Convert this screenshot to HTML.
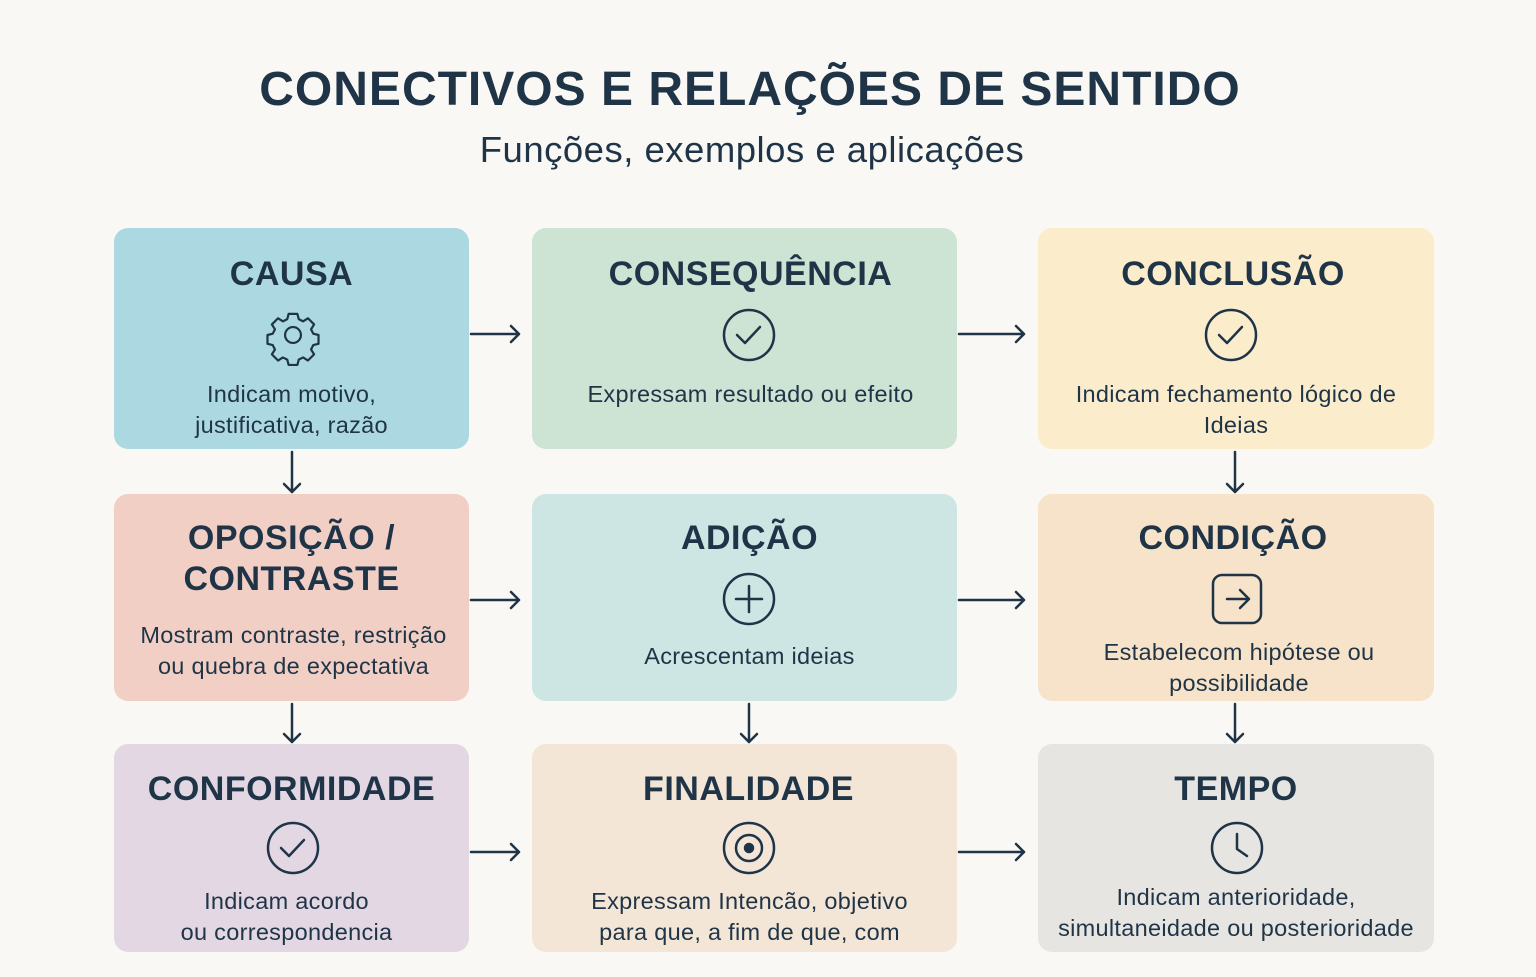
<!DOCTYPE html>
<html><head><meta charset="utf-8"><style>
*{margin:0;padding:0;box-sizing:border-box}
body{width:1536px;height:977px;background:#faf8f4;font-family:"Liberation Sans","DejaVu Sans",sans-serif;color:#1f3447;position:relative;overflow:hidden}
.t{position:absolute;left:0;width:1536px;text-align:center}
.b{position:absolute;border-radius:14px}
.h{position:absolute;left:0;right:0;text-align:center;font-weight:bold;font-size:34px;line-height:41px;letter-spacing:0.5px}
.d{position:absolute;left:-20px;right:-20px;text-align:center;font-size:23.5px;line-height:31px;letter-spacing:0.3px}
svg{position:absolute;left:0;top:0}
</style></head><body>
<div class="t" style="top:62px;font-size:48px;font-weight:bold;letter-spacing:1px;left:-18px">CONECTIVOS E RELAÇÕES DE SENTIDO</div>
<div class="t" style="top:129px;font-size:36.5px;left:-16px;letter-spacing:0.5px">Funções, exemplos e aplicações</div>

<div class="b" style="left:114px;top:228px;width:355px;height:221px;background:#acd8e2">
 <div class="h" style="top:26px">CAUSA</div>
 <div class="d" style="top:151px">Indicam motivo,<br>justificativa, razão</div></div>
<div class="b" style="left:532px;top:228px;width:425px;height:221px;background:#cde3d3">
 <div class="h" style="top:26px;left:12px">CONSEQUÊNCIA</div>
 <div class="d" style="top:151px;left:-8px">Expressam resultado ou efeito</div></div>
<div class="b" style="left:1038px;top:228px;width:396px;height:221px;background:#fbedcc">
 <div class="h" style="top:26px;right:6px">CONCLUSÃO</div>
 <div class="d" style="top:151px">Indicam fechamento lógico de<br>Ideias</div></div>

<div class="b" style="left:114px;top:494px;width:355px;height:207px;background:#f2cfc5">
 <div class="h" style="top:24px">OPOSIÇÃO /<br>CONTRASTE</div>
 <div class="d" style="top:126px;left:-16px">Mostram contraste, restrição<br>ou quebra de expectativa</div></div>
<div class="b" style="left:532px;top:494px;width:425px;height:207px;background:#cde5e3">
 <div class="h" style="top:24px;left:10px">ADIÇÃO</div>
 <div class="d" style="top:147px;left:-10px">Acrescentam ideias</div></div>
<div class="b" style="left:1038px;top:494px;width:396px;height:207px;background:#f6e3c9">
 <div class="h" style="top:24px;right:6px">CONDIÇÃO</div>
 <div class="d" style="top:143px;left:-14px">Estabelecom hipótese ou<br>possibilidade</div></div>

<div class="b" style="left:114px;top:744px;width:355px;height:208px;background:#e2d7e3">
 <div class="h" style="top:25px">CONFORMIDADE</div>
 <div class="d" style="top:142px;right:-10px">Indicam acordo<br>ou correspondencia</div></div>
<div class="b" style="left:532px;top:744px;width:425px;height:208px;background:#f3e6d6">
 <div class="h" style="top:25px;left:8px">FINALIDADE</div>
 <div class="d" style="top:142px;left:-10px">Expressam Intencão, objetivo<br>para que, a fim de que, com</div></div>
<div class="b" style="left:1038px;top:744px;width:396px;height:208px;background:#e6e5e1">
 <div class="h" style="top:25px">TEMPO</div>
 <div class="d" style="top:138px">Indicam anterioridade,<br>simultaneidade ou posterioridade</div></div>

<svg width="1536" height="977" fill="none" stroke="#1f3447" stroke-width="2.5" stroke-linecap="round" stroke-linejoin="round">
<g>
<path d="M471 334H519M511 326L519 334L511 342"/>
<path d="M959 334H1024M1016 326L1024 334L1016 342"/>
<path d="M471 600H519M511 592L519 600L511 608"/>
<path d="M959 600H1024M1016 592L1024 600L1016 608"/>
<path d="M471 852H519M511 844L519 852L511 860"/>
<path d="M959 852H1024M1016 844L1024 852L1016 860"/>
<path d="M292 452V492M284 484L292 492L300 484"/>
<path d="M1235 452V492M1227 484L1235 492L1243 484"/>
<path d="M292 704V742M284 734L292 742L300 734"/>
<path d="M749 704V742M741 734L749 742L757 734"/>
<path d="M1235 704V742M1227 734L1235 742L1243 734"/>
</g>
<g transform="translate(293,335) scale(0.88)">
<circle r="9"/>
<path d="M-5 -24h10l1.5 6 5 2.5 5.5-3.5 7 7-3.5 5.5 2.5 5 6 1.5v10l-6 1.5-2.5 5 3.5 5.5-7 7-5.5-3.5-5 2.5-1.5 6h-10l-1.5-6-5-2.5-5.5 3.5-7-7 3.5-5.5-2.5-5-6-1.5v-10l6-1.5 2.5-5-3.5-5.5 7-7 5.5 3.5 5-2.5z"/>
</g>
<circle cx="749" cy="335" r="25"/><path d="M737 335l8 8 15-16"/>
<circle cx="1231" cy="335" r="25"/><path d="M1219 335l8 8 15-16"/>
<circle cx="749" cy="599" r="25"/><path d="M749 586v26M736 599h26"/>
<rect x="1213" y="575" width="48" height="48" rx="9"/><path d="M1227 599h22M1240 590l9 9-9 9"/>
<circle cx="293" cy="848" r="25"/><path d="M281 848l8 8 15-16"/>
<circle cx="749" cy="848" r="25"/><circle cx="749" cy="848" r="13"/><circle cx="749" cy="848" r="4" fill="#1f3447"/>
<circle cx="1237" cy="848" r="25"/><path d="M1237 834v15l10 7"/>
</svg>
</body></html>
